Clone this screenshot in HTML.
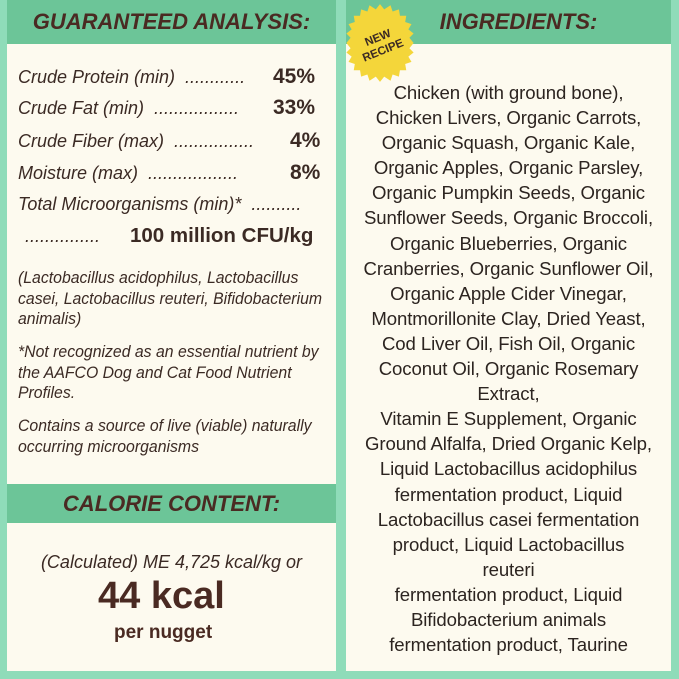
<!DOCTYPE html><html><head><style>
body{margin:0;width:679px;height:679px;background:#8fdcb9;position:relative;overflow:hidden;font-family:"Liberation Sans",sans-serif;color:#3b2a24}
.p{position:absolute;background:#fdfaef}
.h{position:absolute;background:#6cc598;color:#4a2a22;font-style:italic;font-weight:bold;font-size:22px;text-align:center}
.a{position:absolute;font-style:italic;font-size:18px;white-space:nowrap}
.v{position:absolute;font-style:normal;font-weight:bold;font-size:21px;top:-2px}
.r{position:absolute;font-style:italic;font-size:17px;line-height:20.5px;color:#3b2a24;white-space:nowrap;transform:scaleX(0.93);transform-origin:0 0}
.ing{position:absolute;left:346px;width:325px;top:80px;text-align:center;font-size:18.6px;line-height:25.1px;color:#2c2420;letter-spacing:-0.1px}
</style></head><body>
<div class="p" style="left:7px;top:0;width:329px;height:671px"></div>
<div class="p" style="left:346px;top:0;width:325px;height:671px"></div>
<div class="h" style="left:7px;top:0;width:329px;height:44px;line-height:44px">GUARANTEED ANALYSIS:</div>
<div class="h" style="left:346px;top:0;width:325px;height:44px;line-height:44px;text-indent:20px">INGREDIENTS:</div>
<div class="a" style="left:18px;top:67px">Crude Protein (min) &nbsp;............ <span class="v" style="left:255px">45%</span></div>
<div class="a" style="left:18px;top:98px">Crude Fat (min) &nbsp;.................<span class="v" style="left:255px">33%</span></div>
<div class="a" style="left:18px;top:131px">Crude Fiber (max) &nbsp;................<span class="v" style="left:272px">4%</span></div>
<div class="a" style="left:18px;top:163px">Moisture (max) &nbsp;..................<span class="v" style="left:272px">8%</span></div>
<div class="a" style="left:18px;top:194px">Total Microorganisms (min)* &nbsp;..........</div>
<div class="a" style="left:25px;top:226px">............... <b style="position:absolute;left:105px;top:-2px;font-style:normal;font-size:20.5px">100 million CFU/kg</b></div>
<div class="r" style="left:18px;top:268px">(Lactobacillus acidophilus, Lactobacillus<br>casei, Lactobacillus reuteri, Bifidobacterium<br>animalis)</div>
<div class="r" style="left:18px;top:342px">*Not recognized as an essential nutrient by<br>the AAFCO Dog and Cat Food Nutrient<br>Profiles.</div>
<div class="r" style="left:18px;top:416px">Contains a source of live (viable) naturally<br>occurring microorganisms</div>
<div class="h" style="left:7px;top:484px;width:329px;height:39px;line-height:39px">CALORIE CONTENT:</div>
<div class="a" style="left:7px;width:329px;text-align:center;top:552px;font-size:18px">(Calculated) ME 4,725 kcal/kg or</div>
<div style="position:absolute;left:98px;top:575px;font-weight:bold;font-size:38px;color:#4a2a22">44 kcal</div>
<div style="position:absolute;left:114px;top:622px;font-weight:bold;font-size:19px;color:#4a2a22">per nugget</div>
<svg style="position:absolute;left:338px;top:1px" width="84" height="84" viewBox="0 0 80 80">
<polygon fill="#f4d63a" points="40,3 44,8 50,4 52,10 58,8 59,14 65,14 64,20 70,22 67,27 72,31 68,35 72,40 68,45 72,49 67,53 70,58 64,60 65,66 59,66 58,72 52,70 50,76 44,72 40,77 36,72 30,76 28,70 22,72 21,66 15,66 16,60 10,58 13,53 8,49 12,45 8,40 12,35 8,31 13,27 10,22 16,20 15,14 21,14 22,8 28,10 30,4 36,8"/>
<g transform="rotate(-22 40 40)" font-family="Liberation Sans" font-weight="bold" font-size="11" fill="#3b2a24" text-anchor="middle"><text x="40" y="38">NEW</text><text x="40" y="51">RECIPE</text></g>
</svg>
<div class="ing">Chicken (with ground bone),<br>Chicken Livers, Organic Carrots,<br>Organic Squash, Organic Kale,<br>Organic Apples, Organic Parsley,<br>Organic Pumpkin Seeds, Organic<br>Sunflower Seeds, Organic Broccoli,<br>Organic Blueberries, Organic<br>Cranberries, Organic Sunflower Oil,<br>Organic Apple Cider Vinegar,<br>Montmorillonite Clay, Dried Yeast,<br>Cod Liver Oil, Fish Oil, Organic<br>Coconut Oil, Organic Rosemary<br>Extract,<br>Vitamin E Supplement, Organic<br>Ground Alfalfa, Dried Organic Kelp,<br>Liquid Lactobacillus acidophilus<br>fermentation product, Liquid<br>Lactobacillus casei fermentation<br>product, Liquid Lactobacillus<br>reuteri<br>fermentation product, Liquid<br>Bifidobacterium animals<br>fermentation product, Taurine</div>
</body></html>
